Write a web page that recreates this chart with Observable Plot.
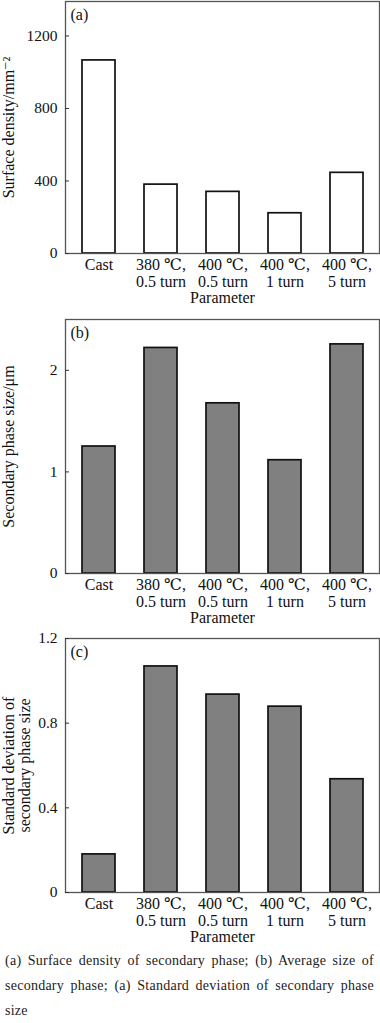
<!DOCTYPE html>
<html>
<head>
<meta charset="utf-8">
<script src="https://cdn.jsdelivr.net/npm/d3@7"></script>
<script src="https://cdn.jsdelivr.net/npm/@observablehq/plot@0.6"></script>
<style>
  html, body { margin: 0; padding: 0; background: #fff; }
  body { width: 380px; font-family: "Liberation Serif", "DejaVu Serif", serif; }
  #chart svg { display: block; }
  #caption { font-family: "Liberation Serif", "DejaVu Serif", serif; font-size: 14px; letter-spacing: 0.25px; line-height: 25px; text-align: justify; padding: 0 6px 0 5px; color: #222; }
</style>
</head>
<body>
<div id="chart"></div>
<div id="caption">(a) Surface density of secondary phase; (b) Average size of secondary phase; (a) Standard deviation of secondary phase size</div>
<script>
const categories = ["Cast", "380 ℃,\n0.5 turn", "400 ℃,\n0.5 turn", "400 ℃,\n1 turn", "400 ℃,\n5 turn"];
const surfaceDensity = [1065, 380, 340, 222, 445];
const phaseSize = [1.25, 2.22, 1.675, 1.115, 2.255];
const phaseSizeStd = [0.18, 1.068, 0.935, 0.878, 0.535];
const ticksA = [0, 400, 800, 1200];
const ticksB = [0, 1, 2];
const ticksC = [0, 0.4, 0.8, 1.2];

const font = "Liberation Serif, DejaVu Serif, serif";

function panel({values, yDomain, yTicks, yLabel, labelDx, tag, fill, height, marginTop, marginBottom}) {
  const data = categories.map((c, i) => ({c, v: values[i]}));
  return Plot.plot({
    width: 380,
    height,
    marginLeft: 65,
    marginRight: 1,
    marginTop,
    marginBottom,
    style: {fontFamily: font, color: "#111", background: "#fff", overflow: "visible"},
    x: {domain: categories, paddingInner: 0.47, paddingOuter: 0.235, axis: null},
    y: {domain: yDomain, axis: null},
    marks: [
      Plot.barY(data, {x: "c", y: "v", fill, stroke: "#111", strokeWidth: 1.7}),
      Plot.frame({stroke: "#555", strokeWidth: 1.3}),
      Plot.axisY({ticks: yTicks, tickFormat: d => String(d), tickSize: -4, tickPadding: 12, fontSize: 15.5, stroke: "#333", label: null}),
      Plot.axisX({tickSize: 0, tickPadding: 5, fontSize: 16, lineHeight: 1.05, label: null}),
      Plot.text([tag], {frameAnchor: "top-left", text: d => d, dx: 5, dy: 13, fontSize: 16, textAnchor: "start", lineAnchor: "middle"}),
      Plot.text(["Parameter"], {frameAnchor: "bottom", text: d => d, dy: 44, fontSize: 16, lineAnchor: "middle"}),
      Plot.text([yLabel], {frameAnchor: "left", text: d => d, dx: labelDx, rotate: -90, fontSize: 16, textAnchor: "middle", lineAnchor: "middle", lineHeight: 1})
    ]
  });
}

const chart = document.getElementById("chart");
chart.append(panel({values: surfaceDensity, yDomain: [0, 1390], yTicks: ticksA, yLabel: "Surface density/mm⁻²", labelDx: -57, tag: "(a)", fill: "#fff", height: 310, marginTop: 1, marginBottom: 57}));
chart.append(panel({values: phaseSize, yDomain: [0, 2.5], yTicks: ticksB, yLabel: "Secondary phase size/μm", labelDx: -57, tag: "(b)", fill: "#808080", height: 318, marginTop: 9, marginBottom: 55}));
chart.append(panel({values: phaseSizeStd, yDomain: [0, 1.2], yTicks: ticksC, yLabel: "Standard deviation of\nsecondary phase size", labelDx: -49, tag: "(c)", fill: "#808080", height: 320, marginTop: 10, marginBottom: 56}));
</script>
</body>
</html>
